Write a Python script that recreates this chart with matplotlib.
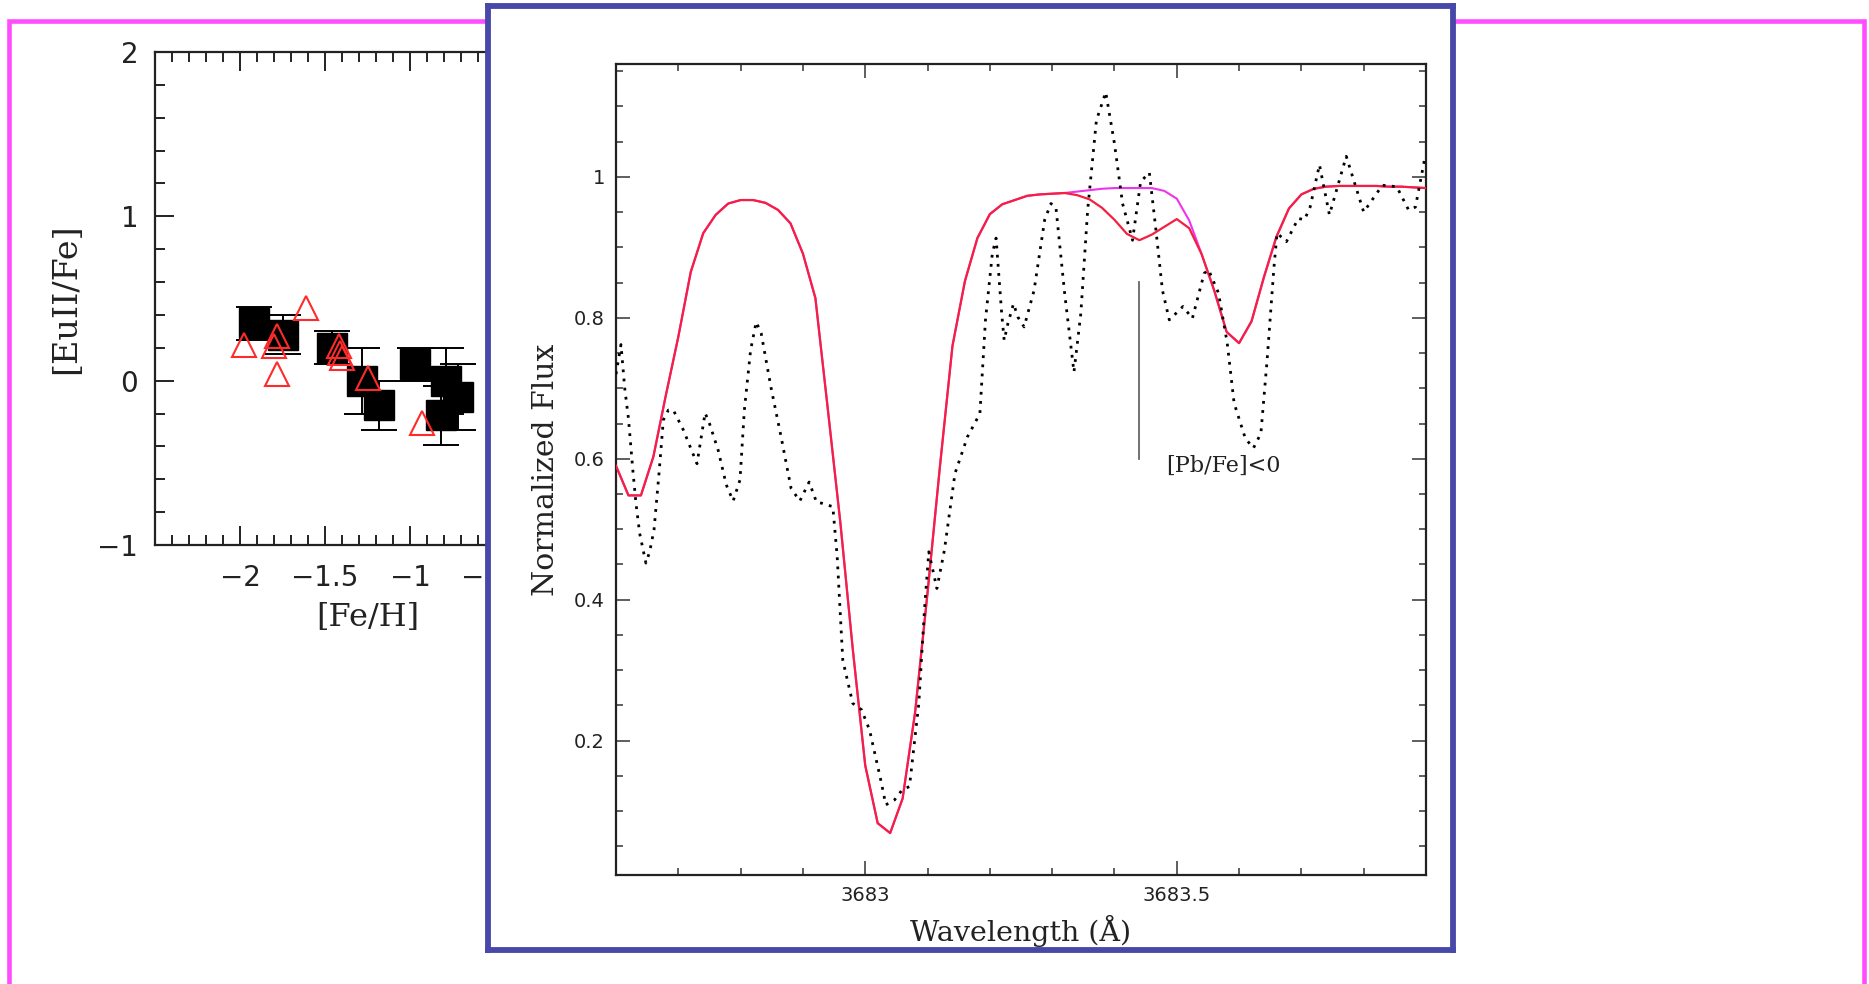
import matplotlib
matplotlib.use('Agg')
import matplotlib.pyplot as plt
from matplotlib.patches import Rectangle
from matplotlib.ticker import MultipleLocator, FixedLocator

# ---------------- data: left panel ([EuII/Fe] vs [Fe/H]) ----------------
sq_feh = [-1.92, -1.75, -1.46, -1.28, -1.18, -0.97, -0.79, -0.72, -0.82]
sq_eu = [0.35, 0.28, 0.20, 0.00, -0.15, 0.10, 0.00, -0.10, -0.21]
sq_err = [0.10, 0.12, 0.10, 0.20, 0.15, 0.10, 0.20, 0.20, 0.18]

tri_feh = [-1.975, -1.80, -1.78, -1.78, -1.61, -1.42, -1.41, -1.40, -1.25, -0.93]
tri_eu = [0.22, 0.21, 0.27, 0.04, 0.44, 0.21, 0.17, 0.135, 0.015, -0.26]

# ---------------- data: inset spectrum ----------------
model_wl = [3682.60, 3682.62, 3682.64, 3682.66, 3682.68, 3682.70, 3682.72, 3682.74,
            3682.76, 3682.78, 3682.80, 3682.82, 3682.84, 3682.86, 3682.88, 3682.90,
            3682.92, 3682.94, 3682.96, 3682.98, 3683.00, 3683.02, 3683.04, 3683.06,
            3683.08, 3683.10, 3683.12, 3683.14, 3683.16, 3683.18, 3683.20, 3683.22,
            3683.24, 3683.26, 3683.28, 3683.30, 3683.32, 3683.34, 3683.36, 3683.38,
            3683.40, 3683.42, 3683.44, 3683.46, 3683.48, 3683.50, 3683.52, 3683.54,
            3683.56, 3683.58, 3683.60, 3683.62, 3683.64, 3683.66, 3683.68, 3683.70,
            3683.72, 3683.74, 3683.76, 3683.78, 3683.80, 3683.82, 3683.84, 3683.86,
            3683.88, 3683.90]
flux_pb = [0.590, 0.548, 0.548, 0.603, 0.690, 0.773, 0.865, 0.920,
           0.946, 0.962, 0.967, 0.967, 0.963, 0.953, 0.934, 0.891,
           0.828, 0.670, 0.510, 0.330, 0.165, 0.083, 0.069, 0.118,
           0.240, 0.410, 0.590, 0.760, 0.852, 0.913, 0.947, 0.961,
           0.967, 0.973, 0.975, 0.976, 0.977, 0.974, 0.968, 0.956,
           0.939, 0.919, 0.910, 0.918, 0.929, 0.940, 0.927, 0.890,
           0.839, 0.780, 0.764, 0.795, 0.858, 0.915, 0.955, 0.975,
           0.983, 0.986, 0.987, 0.987, 0.987, 0.987, 0.986, 0.986,
           0.985, 0.984]
flux_nopb = [0.590, 0.548, 0.548, 0.603, 0.690, 0.773, 0.865, 0.920,
             0.946, 0.962, 0.967, 0.967, 0.963, 0.953, 0.934, 0.891,
             0.828, 0.670, 0.510, 0.330, 0.165, 0.083, 0.069, 0.118,
             0.240, 0.410, 0.590, 0.760, 0.852, 0.913, 0.947, 0.961,
             0.967, 0.973, 0.975, 0.976, 0.977, 0.979, 0.981, 0.983,
             0.984, 0.984, 0.984, 0.984, 0.980, 0.969, 0.938, 0.890,
             0.839, 0.780, 0.764, 0.795, 0.858, 0.915, 0.955, 0.975,
             0.983, 0.986, 0.987, 0.987, 0.987, 0.987, 0.986, 0.986,
             0.985, 0.984]

obs_wl = [3682.600, 3682.608, 3682.614, 3682.620, 3682.627, 3682.632, 3682.638, 3682.648,
          3682.654, 3682.661, 3682.669, 3682.676, 3682.684, 3682.692, 3682.708, 3682.730,
          3682.743, 3682.750, 3682.764, 3682.777, 3682.788, 3682.799, 3682.806, 3682.816,
          3682.825, 3682.833, 3682.849, 3682.865, 3682.881, 3682.895, 3682.910, 3682.922,
          3682.930, 3682.948, 3682.955, 3682.964, 3682.980, 3682.994, 3683.007, 3683.026,
          3683.033, 3683.047, 3683.059, 3683.071, 3683.086, 3683.095, 3683.102, 3683.115,
          3683.127, 3683.144, 3683.164, 3683.184, 3683.193, 3683.204, 3683.210, 3683.219,
          3683.223, 3683.229, 3683.238, 3683.245, 3683.255, 3683.271, 3683.288, 3683.298,
          3683.306, 3683.320, 3683.335, 3683.346, 3683.357, 3683.371, 3683.386, 3683.400,
          3683.413, 3683.429, 3683.442, 3683.456, 3683.466, 3683.477, 3683.488, 3683.510,
          3683.525, 3683.544, 3683.551, 3683.567, 3683.581, 3683.592, 3683.610, 3683.623,
          3683.635, 3683.645, 3683.656, 3683.661, 3683.676, 3683.695, 3683.705, 3683.714,
          3683.729, 3683.745, 3683.772, 3683.800, 3683.830, 3683.853, 3683.872, 3683.883,
          3683.898]
obs_flux = [0.720, 0.762, 0.700, 0.657, 0.584, 0.537, 0.494, 0.452,
            0.468, 0.499, 0.579, 0.655, 0.669, 0.669, 0.641, 0.593,
            0.665, 0.650, 0.612, 0.563, 0.540, 0.570, 0.669, 0.754,
            0.794, 0.778, 0.700, 0.631, 0.558, 0.540, 0.567, 0.538,
            0.537, 0.532, 0.461, 0.314, 0.253, 0.244, 0.215, 0.140,
            0.109, 0.116, 0.130, 0.135, 0.253, 0.385, 0.468, 0.416,
            0.470, 0.579, 0.631, 0.664, 0.797, 0.891, 0.913, 0.806,
            0.768, 0.792, 0.820, 0.801, 0.787, 0.839, 0.939, 0.962,
            0.957, 0.835, 0.723, 0.806, 0.953, 1.080, 1.120, 1.047,
            0.962, 0.910, 0.993, 1.006, 0.929, 0.839, 0.797, 0.816,
            0.799, 0.863, 0.868, 0.835, 0.764, 0.679, 0.629, 0.615,
            0.636, 0.740, 0.872, 0.920, 0.908, 0.941, 0.939, 0.957,
            1.017, 0.946, 1.029, 0.950, 0.988, 0.986, 0.953, 0.957,
            1.026]

pb_line_wl = 3683.44
pb_line_flux = [0.60, 0.851]
pb_label = "[Pb/Fe]<0"

W, H = 1869, 984
fig = plt.figure(figsize=(W / 100, H / 100), dpi=100)
fig.patch.set_facecolor('white')

def fx(px):
    return px / W

def fy(py):
    return 1 - py / H

# ---------------- magenta outer frame ----------------
mag = Rectangle((fx(8.5), -0.05), fx(1864) - fx(8.5), fy(21) + 0.05,
                transform=fig.transFigure, fill=False, edgecolor='#ff4cff',
                linewidth=3.3, zorder=0.5)
fig.add_artist(mag)

# ---------------- left panel ----------------
ax1 = fig.add_axes([fx(155), fy(545), (580 - 155) / W, (545 - 52) / H])
ax1.set_zorder(1)
ax1.set_xlim(-2.5, 0.0)
ax1.set_ylim(-1, 2)
ax1.errorbar(sq_feh, sq_eu, yerr=sq_err, fmt='s', color='black', ms=21,
             capsize=13, elinewidth=1.4, capthick=1.4, mfc='black', mec='black',
             zorder=3)
ax1.plot(tri_feh, tri_eu, '^', ms=17, mfc='none', mec='#ff2a2a', mew=1.5,
         zorder=4, linestyle='none')
ax1.xaxis.set_major_locator(FixedLocator([-2, -1.5, -1, -0.5]))
ax1.xaxis.set_minor_locator(MultipleLocator(0.1))
ax1.yaxis.set_major_locator(FixedLocator([-1, 0, 1, 2]))
ax1.yaxis.set_minor_locator(MultipleLocator(0.2))
ax1.set_xticklabels(['\u22122', '\u22121.5', '\u22121', '\u22120.5'])
ax1.set_yticklabels(['\u22121', '0', '1', '2'])
ax1.tick_params(which='both', direction='in', top=True, right=True,
                color='#222222', width=1.4, labelsize=20, labelcolor='#222222')
ax1.tick_params(which='major', length=14)
ax1.tick_params(which='minor', length=7)
ax1.tick_params(axis='x', which='major', pad=14)
ax1.tick_params(axis='y', which='major', pad=12)
for s in ax1.spines.values():
    s.set_linewidth(1.6)
    s.set_color('#222222')
ax1.set_xlabel('[Fe/H]', family='DejaVu Serif', fontsize=23, color='#222222')
ax1.set_ylabel('[EuII/Fe]', family='DejaVu Serif', fontsize=24, color='#222222')
ax1.xaxis.set_label_coords(0.5, -(602 - 545) / (545 - 52))
ax1.yaxis.set_label_coords(-(155 - 82) / (580 - 155), 0.5)

# ---------------- inset frame (blue) ----------------
axf = fig.add_axes([fx(488), fy(950), (1453 - 488) / W, (950 - 5.5) / H])
axf.set_zorder(2)
axf.set_facecolor('white')
axf.set_xticks([])
axf.set_yticks([])
for s in axf.spines.values():
    s.set_linewidth(4.2)
    s.set_color('#4848a8')

# ---------------- inset spectrum ----------------
ax2 = fig.add_axes([fx(616), fy(875), (1426 - 616) / W, (875 - 64) / H])
ax2.set_zorder(3)
ax2.set_facecolor('white')
ax2.set_xlim(3682.6, 3683.9)
ax2.set_ylim(0.0095, 1.16)
ax2.plot(model_wl, flux_nopb, color='#ee33ee', lw=1.5, zorder=2)
ax2.plot(model_wl, flux_pb, color='#f5203f', lw=1.6, zorder=3)
ax2.plot(obs_wl, obs_flux, color='black', lw=2.0, linestyle=(0, (1, 2.3)), zorder=4)
ax2.plot([pb_line_wl, pb_line_wl], pb_line_flux, color='#666666', lw=1.3, zorder=2)
ax2.text(3683.4835, 0.59, pb_label, family='DejaVu Serif', fontsize=16,
         ha='left', va='center', color='#222222')

ax2.xaxis.set_major_locator(FixedLocator([3683.0, 3683.5]))
ax2.xaxis.set_minor_locator(MultipleLocator(0.1))
ax2.set_xticklabels(['3683', '3683.5'])
ax2.yaxis.set_major_locator(FixedLocator([0.2, 0.4, 0.6, 0.8, 1.0]))
ax2.yaxis.set_minor_locator(MultipleLocator(0.05))
ax2.set_yticklabels(['0.2', '0.4', '0.6', '0.8', '1'])
ax2.tick_params(which='both', direction='in', top=True, right=True,
                color='#333333', width=1.1, labelsize=14, labelcolor='#222222')
ax2.tick_params(which='major', length=10, pad=8)
ax2.tick_params(which='minor', length=5)
for s in ax2.spines.values():
    s.set_linewidth(1.6)
    s.set_color('#222222')
ax2.set_xlabel('Wavelength (\u00c5)', family='DejaVu Serif', fontsize=20.5,
               color='#222222')
ax2.set_ylabel('Normalized Flux', family='DejaVu Serif', fontsize=21.5,
               color='#222222')
ax2.xaxis.set_label_coords(0.5, -(915 - 875) / (875 - 64))
ax2.yaxis.set_label_coords(-(616 - 560) / (1426 - 616), 0.5)

fig.savefig('out.png', dpi=100, facecolor='white')
